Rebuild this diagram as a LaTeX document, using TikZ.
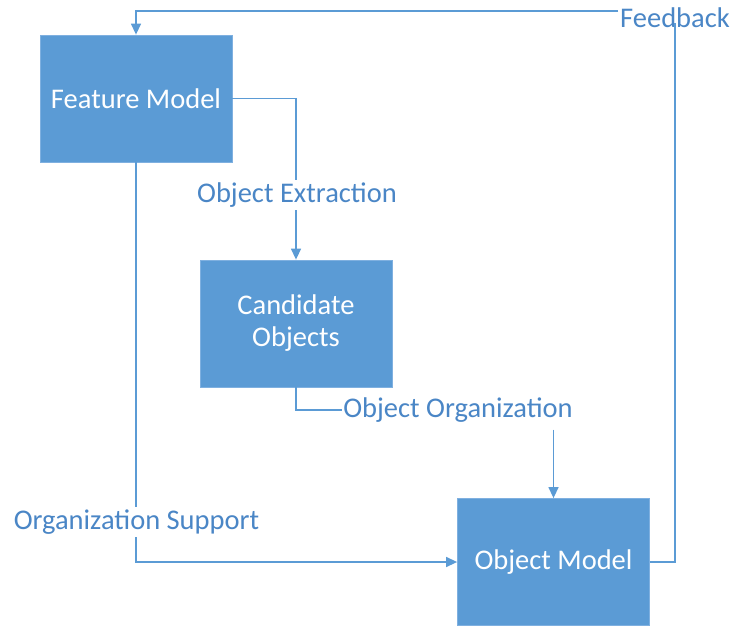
\documentclass[tikz,border=0pt]{standalone}
\usepackage{fontspec}
\setmainfont{Carlito}
\usetikzlibrary{arrows.meta}
\definecolor{boxblue}{HTML}{5B9BD5}
\definecolor{boxedge}{HTML}{7FB0E0}
\definecolor{linkblue}{HTML}{5B9BD5}
\definecolor{lblblue}{HTML}{4A86C6}
\tikzset{
  block/.style={rectangle, fill=boxblue, draw=boxedge, line width=0.8pt,
    minimum width=192pt, minimum height=127pt, text=white,
    font=\fontsize{28.5}{34}\selectfont, align=center, inner sep=0pt},
  lbl/.style={text=lblblue, fill=white, inner sep=3pt,
    font=\fontsize{28.5}{34}\selectfont},
  link/.style={draw=linkblue, line width=1.4pt},
  arr/.style={link, -{Triangle[length=11pt,width=10pt]}},
}
\begin{document}
\begin{tikzpicture}[x=1pt,y=-1pt]
\useasboundingbox (0,0) rectangle (733,628);

% blocks
\node[block] (fm) at (136,98.5) {Feature Model};
\node[block] (co) at (296,323.5) {Candidate\\[-2pt]Objects};
\node[block] (om) at (553.5,562) {Object Model};

% feature model -> candidate objects
\draw[arr] (fm.east) -| (co.north);
\node[lbl] (lOE) at (297,195) {Object Extraction};

% candidate objects -> object model
\node[lbl, inner sep=1pt] (lOO) at (458,410) {Object Organization};
\draw[link] (co.south) |- (lOO.west);
\draw[arr] (lOO.south -| om.north) ++(0,6) -- (om.north);

% feature model -> object model
\draw[arr] (fm.south) |- (om.west);
\node[lbl] (lOS) at (136.5,522) {Organization Support};

% feedback loop
\node[lbl, inner sep=1pt] (lFB) at (675,18) {Feedback};
\coordinate (fbIn) at (618,11);
\draw[link] (om.east) -| ([yshift=6pt]lFB.south);
\draw[arr] (fbIn) -| (fm.north);
\end{tikzpicture}
\end{document}
